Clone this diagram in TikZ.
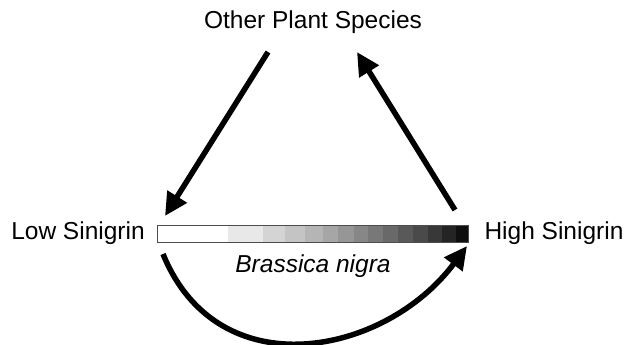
\documentclass[tikz,border=0pt]{standalone}
\usepackage{fontspec}
\setmainfont{Liberation Sans}
\usetikzlibrary{arrows.meta}
\tikzset{
  lbl/.style={inner sep=0pt, font=\fontsize{24.5}{28}\selectfont},
  fatarrow/.style={line width=5.5pt, -{Triangle[length=23pt,width=22pt]}},
}
\begin{document}
\begin{tikzpicture}[x=1pt,y=-1pt]
\useasboundingbox (0,0) rectangle (629,345);
% labels
\node[lbl] (other) at (313,22) {Other Plant Species};
\node[lbl] (low) at (78,233) {Low Sinigrin};
\node[lbl] (high) at (554,233) {High Sinigrin};
\node[lbl, font=\fontsize{24.5}{28}\selectfont\itshape] (bn) at (313,266) {Brassica nigra};
% gradient bar
\fill[white] (157,225) rectangle (228,242);
\fill[black!9]  (228,225) rectangle (263,242);
\fill[black!17] (263,225) rectangle (285,242);
\fill[black!23] (285,225) rectangle (305,242);
\fill[black!29] (305,225) rectangle (323,242);
\fill[black!35] (323,225) rectangle (338,242);
\fill[black!41] (338,225) rectangle (354,242);
\fill[black!47] (354,225) rectangle (368,242);
\fill[black!53] (368,225) rectangle (383,242);
\fill[black!59] (383,225) rectangle (398,242);
\fill[black!65] (398,225) rectangle (413,242);
\fill[black!71] (413,225) rectangle (428,242);
\fill[black!78] (428,225) rectangle (442,242);
\fill[black!86] (442,225) rectangle (456,242);
\fill[black!94] (456,225) rectangle (468,242);
\node[draw=black!70, line width=1pt, minimum width=311pt, minimum height=17pt, inner sep=0pt, anchor=north west] (bar) at (157,225) {};
% connector endpoints
\coordinate (a1s) at (268,52);
\coordinate (a1e) at (165,216);
\coordinate (a2s) at (455,210);
\coordinate (a2e) at (357,52);
\coordinate (a3s) at (163,254);
\coordinate (a3e) at (467,246);
\draw[fatarrow] (a1s) -- (a1e);
\draw[fatarrow] (a2s) -- (a2e);
\draw[fatarrow] (a3s) .. controls (218,389) and (385,356) .. (a3e);
\end{tikzpicture}
\end{document}
